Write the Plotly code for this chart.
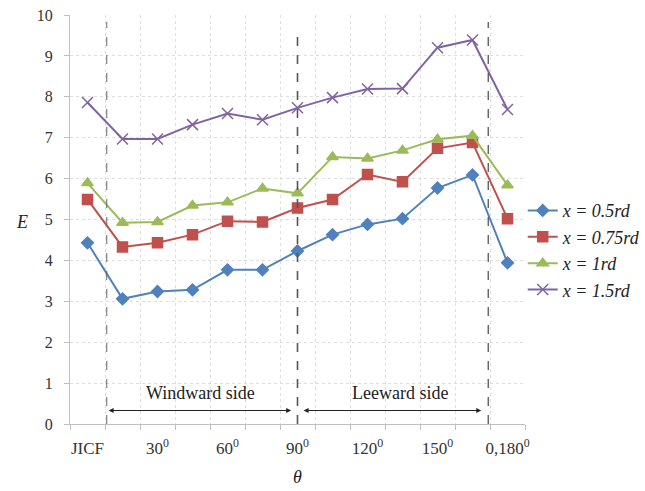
import plotly.graph_objects as go

categories = ["JICF", "15", "30", "45", "60", "75", "90", "105", "120", "135", "150", "165", "180"]
tick_labels = ["JICF", "30<sup>0</sup>", "60<sup>0</sup>", "90<sup>0</sup>", "120<sup>0</sup>", "150<sup>0</sup>", "0,180<sup>0</sup>"]
series_names = ["x = 0.5rd", "x = 0.75rd", "x = 1rd", "x = 1.5rd"]
e_05 = [4.43, 3.06, 3.24, 3.28, 3.77, 3.77, 4.23, 4.63, 4.88, 5.02, 5.77, 6.09, 3.94]
e_075 = [5.49, 4.33, 4.43, 4.63, 4.96, 4.94, 5.28, 5.49, 6.10, 5.92, 6.74, 6.88, 5.02]
e_1 = [5.89, 4.92, 4.94, 5.34, 5.42, 5.76, 5.64, 6.53, 6.49, 6.69, 6.96, 7.05, 5.84]
e_15 = [7.86, 6.97, 6.97, 7.32, 7.59, 7.44, 7.73, 7.98, 8.19, 8.20, 9.20, 9.39, 7.69]

colors = ["#4F81BD", "#C0504D", "#9BBB59", "#8064A2"]
symbols = ["diamond", "square", "triangle-up", "x-thin-open"]
sizes = [9, 10, 10, 11]

idx = list(range(len(categories)))
fig = go.Figure()
for name, vals, c, s, sz in zip(series_names, [e_05, e_075, e_1, e_15], colors, symbols, sizes):
    fig.add_trace(go.Scatter(
        x=idx, y=vals, mode="lines+markers", name="<i>" + name + "</i>",
        line=dict(color=c, width=2),
        marker=dict(symbol=s, size=sz, color=c, line=dict(color=c, width=1.5)),
    ))

serif = "'Liberation Serif', 'Times New Roman', serif"
grid = "#DDDDDD"

W, H = 645, 491
l, r, t, b = 70, 120, 15, 67
pw, ph = W - l - r, H - t - b

fig.update_layout(
    width=W, height=H,
    margin=dict(l=l, r=r, t=t, b=b, autoexpand=False),
    paper_bgcolor="white", plot_bgcolor="white",
    font=dict(family=serif, size=15, color="#333333"),
    showlegend=True,
    legend=dict(x=0.995, y=0.425, xanchor="left", yanchor="middle",
                font=dict(family=serif, size=18, color="#222222"),
                tracegroupgap=0, itemwidth=30),
    xaxis=dict(
        range=[-0.5, 12.5], tickmode="array", automargin=False,
        tickvals=idx[::2], ticktext=tick_labels,
        showgrid=False, ticks="", showline=True, linecolor="#BFBFBF",
        zeroline=False, ticklabelstandoff=9,
        tickfont=dict(family=serif, size=17, color="#333333"),
        minor=dict(tick0=-0.5, dtick=1, showgrid=True, gridcolor=grid,
                   griddash="dot", ticks="outside", ticklen=5, tickcolor="#BFBFBF"),
    ),
    yaxis=dict(
        range=[0, 10], dtick=1, showgrid=True, gridcolor=grid, griddash="dot",
        showline=True, linecolor="#BFBFBF", ticks="outside", ticklen=5, automargin=False,
        tickcolor="#BFBFBF", zeroline=False, ticklabelstandoff=8,
        tickfont=dict(family=serif, size=16, color="#333333"),
    ),
)

# vertical dashed separators
for xv, ytop, w, col in [(0.55, 9.83, 1, "#666666"), (6.0, 9.68, 1.6, "#555555"), (11.45, 9.83, 1.3, "#555555")]:
    fig.add_shape(type="line", x0=xv, x1=xv, y0=0, y1=ytop, xref="x", yref="y",
                  line=dict(color=col, width=w, dash="dash"))

# side arrows
for x0, x1 in [(0.56, 5.82), (6.13, 11.25)]:
    fig.add_annotation(x=x1, y=0.33, ax=x0, ay=0.33, xref="x", yref="y", axref="x", ayref="y",
                       text="", showarrow=True, arrowhead=2, startarrowhead=2,
                       arrowside="end+start", arrowsize=1, arrowwidth=1, arrowcolor="#222222")

fig.add_annotation(x=3.23, y=0.76, xref="x", yref="y", text="Windward side", showarrow=False,
                   font=dict(family=serif, size=18, color="#222222"))
fig.add_annotation(x=8.94, y=0.76, xref="x", yref="y", text="Leeward side", showarrow=False,
                   font=dict(family=serif, size=18, color="#222222"))

# axis titles
fig.add_annotation(x=(22 - l) / pw, y=(H - b - 222) / ph, xref="paper", yref="paper",
                   text="<i>E</i>", showarrow=False, xanchor="center", yanchor="middle",
                   font=dict(family=serif, size=18, color="#222222"))
fig.add_annotation(x=6.0, y=(H - b - 477) / ph, xref="x", yref="paper",
                   text="<i>θ</i>", showarrow=False, yanchor="middle",
                   font=dict(family=serif, size=18, color="#222222"))

fig.write_html("out.html", config={"displayModeBar": False},
               post_script="document.body.style.margin='0';document.body.style.overflow='hidden';")
